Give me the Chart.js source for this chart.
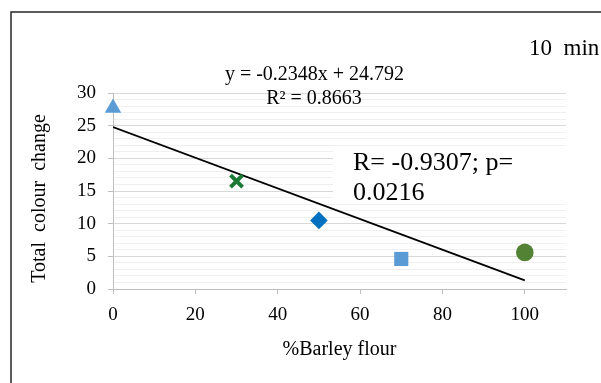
<!DOCTYPE html>
<html>
<head>
<meta charset="utf-8">
<style>
  html, body { margin: 0; padding: 0; background: #fff; }
  canvas { display: block; }
</style>
<script src="https://cdn.jsdelivr.net/npm/chart.js@4/dist/chart.umd.min.js"></script>
</head>
<body>
<canvas id="chart" width="601" height="383"></canvas>
<script>
// values
const flourPct = [0, 30, 50, 70, 100];
const colourChange = [27.7, 16.5, 10.5, 4.6, 5.6];
const markerStyles = ['triangle', 'crossRot', 'rectRot', 'rect', 'circle'];
const markerColours = ['#5B9BD5', '#1B7A36', '#0070C0', '#5B9BD5', '#548235'];
const markerRadius = [9.5, 8.5, 8.8, 10, 8.8];
const markerBorder = [0, 4, 0, 0, 0];

// linear trend line end points
const trendX = [0, 100];
const trendY = [24.79, 1.31];

const xTicks = [0, 20, 40, 60, 80, 100];
const yMajor = [0, 5, 10, 15, 20, 25, 30];

const serif = 'Liberation Serif, Times New Roman, serif';

const notes = {
    id: 'notes',
    beforeDatasetsDraw(chart) {
        const ctx = chart.ctx;
        ctx.save();
        ctx.fillStyle = '#fff';
        ctx.fillRect(333, 148, chart.chartArea.right - 333, 52);
        ctx.restore();
    },
    afterDraw(chart) {
        const ctx = chart.ctx;
        ctx.save();
        ctx.fillStyle = '#000';
        ctx.textBaseline = 'alphabetic';

        ctx.font = '20px ' + serif;
        ctx.textAlign = 'center';
        ctx.fillText('y = -0.2348x + 24.792', 314.5, 80);
        ctx.fillText('R² = 0.8663', 314, 104);

        ctx.textAlign = 'left';
        ctx.font = '26px ' + serif;
        ctx.fillText('R= -0.9307; p=', 353, 170);
        ctx.fillText('0.0216', 353, 200);

        ctx.font = '23px ' + serif;
        ctx.fillText('10  min', 529, 55);

        // outer frame
        ctx.strokeStyle = '#262626';
        ctx.lineWidth = 1.5;
        ctx.beginPath();
        ctx.moveTo(11, 383);
        ctx.lineTo(11, 12);
        ctx.lineTo(601, 12);
        ctx.stroke();
        ctx.restore();
    }
};

new Chart(document.getElementById('chart'), {
    type: 'scatter',
    data: {
        datasets: [
            {
                label: 'points',
                data: flourPct.map((x, i) => ({ x: x, y: colourChange[i] })),
                pointStyle: markerStyles,
                pointRadius: markerRadius,
                pointBackgroundColor: markerColours,
                pointBorderColor: markerColours,
                pointBorderWidth: markerBorder,
                clip: false
            },
            {
                label: 'trend',
                type: 'line',
                data: trendX.map((x, i) => ({ x: x, y: trendY[i] })),
                borderColor: '#000',
                borderWidth: 1.8,
                pointRadius: 0,
                fill: false
            }
        ]
    },
    options: {
        responsive: false,
        animation: false,
        layout: { padding: { top: 93, right: 35, left: 0, bottom: 0 } },
        plugins: { legend: { display: false }, tooltip: { enabled: false } },
        scales: {
            x: {
                type: 'linear',
                min: 0,
                max: 110,
                afterBuildTicks: scale => { scale.ticks = xTicks.map(v => ({ value: v })); },
                afterFit: scale => { scale.height = 94; },
                grid: { drawOnChartArea: false, tickLength: 5, tickColor: '#BFBFBF' },
                border: { color: '#BFBFBF', width: 1 },
                ticks: { color: '#000', font: { family: serif, size: 19 }, padding: 10, maxRotation: 0 },
                title: { display: true, text: '%Barley flour', color: '#000', font: { family: serif, size: 20 }, padding: { top: 0, bottom: 21 } }
            },
            y: {
                min: 0,
                max: 30,
                ticks: {
                    stepSize: 1,
                    color: '#000',
                    font: { family: serif, size: 19 },
                    padding: 12,
                    autoSkip: false,
                    callback: v => yMajor.includes(v) ? String(v) : ''
                },
                afterFit: scale => { scale.width = 113; },
                grid: {
                    color: ctx => yMajor.includes(ctx.tick.value) ? '#D9D9D9' : '#F0F0F0',
                    tickColor: ctx => yMajor.includes(ctx.tick.value) ? '#BFBFBF' : 'rgba(0,0,0,0)',
                    tickLength: 5
                },
                border: { color: '#BFBFBF', width: 1 },
                title: { display: true, text: 'Total  colour  change   ', color: '#000', font: { family: serif, size: 20 }, padding: { top: 28, bottom: 0 } }
            }
        }
    },
    plugins: [notes]
});
</script>
</body>
</html>
